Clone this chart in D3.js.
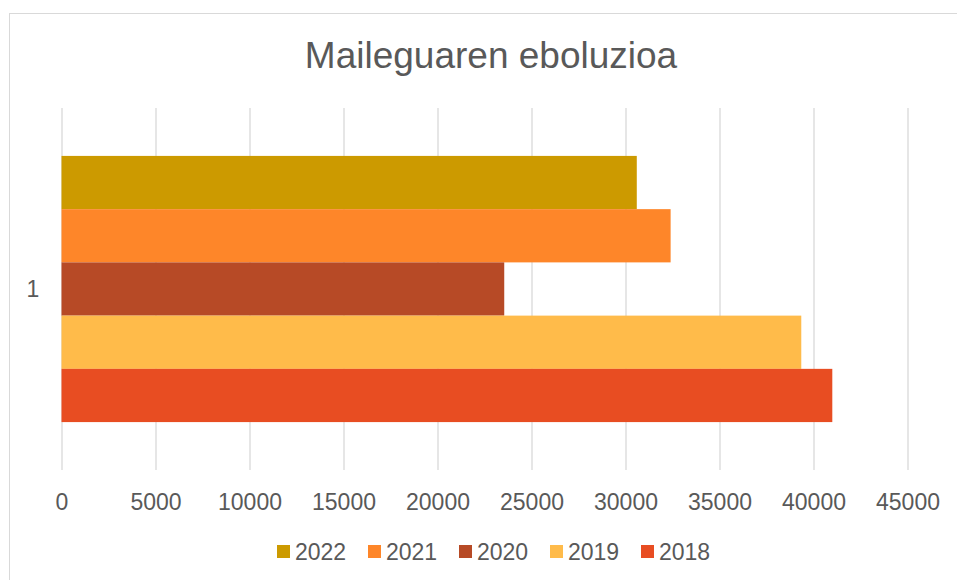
<!DOCTYPE html>
<meta charset="utf-8">
<style>
body { margin: 0; background: #fff; }
text { font-family: "Liberation Sans", Arial, sans-serif; fill: #595959; }
.grid line { stroke: #d9d9d9; stroke-width: 1.3; }
.grid path { display: none; }
.axis--x path, .axis--x line { display: none; }
.axis--x text { font-size: 23px; }
</style>
<svg width="957" height="580"></svg>
<script src="https://d3js.org/d3.v7.min.js"></script>
<script>

var categories = ["1"];
var series = ["2022", "2021", "2020", "2019", "2018"];
var values = [30600, 32400, 23550, 39350, 41000];
var colors = ["#cc9a00", "#fe8629", "#b74a26", "#ffbb4a", "#e84d22"];
var xTicks = [0, 5000, 10000, 15000, 20000, 25000, 30000, 35000, 40000, 45000];

var svg = d3.select("svg"),
    margin = {top: 108, left: 61.5, right: 49.5, bottom: 110},
    width = +svg.attr("width") - margin.left - margin.right,
    height = +svg.attr("height") - margin.top - margin.bottom;

// chart frame (cut off at right and bottom)
svg.append("rect")
    .attr("x", 9.5).attr("y", 13.5)
    .attr("width", 1200).attr("height", 1200)
    .attr("fill", "none").attr("stroke", "#d9d9d9");

svg.append("text")
    .attr("x", 491).attr("y", 68)
    .attr("text-anchor", "middle")
    .style("font-size", "37px")
    .text("Maileguaren eboluzioa");

var x = d3.scaleLinear().domain([0, 45000]).range([0, width]);
var y = d3.scaleBand().domain(categories).range([0, height]).paddingInner(0).paddingOuter(0.18);
var ys = d3.scaleBand().domain(series).range([0, y.bandwidth()]);

var g = svg.append("g")
    .attr("transform", "translate(" + margin.left + "," + margin.top + ")");

g.append("g")
    .attr("class", "grid")
    .attr("transform", "translate(0," + height + ")")
    .call(d3.axisBottom(x).tickValues(xTicks).tickSize(-height).tickFormat(""));

g.append("g")
    .attr("class", "axis axis--x")
    .attr("transform", "translate(0," + height + ")")
    .call(d3.axisBottom(x).tickValues(xTicks).tickFormat(d3.format("d")).tickSize(0).tickPadding(24));

var cat = g.selectAll(".cat")
  .data(categories)
  .enter().append("g")
    .attr("class", "cat")
    .attr("transform", function(d) { return "translate(0," + y(d) + ")"; });

cat.selectAll("rect")
  .data(series.map(function(s, i) { return {key: s, value: values[i], color: colors[i]}; }))
  .enter().append("rect")
    .attr("x", x(0))
    .attr("y", function(d) { return ys(d.key); })
    .attr("width", function(d) { return x(d.value) - x(0); })
    .attr("height", ys.bandwidth())
    .attr("fill", function(d) { return d.color; });

cat.append("text")
    .attr("x", 33 - margin.left)
    .attr("y", y.bandwidth() / 2)
    .attr("dy", "0.35em")
    .attr("text-anchor", "middle")
    .style("font-size", "23px")
    .text(function(d) { return d; });

// legend
var legend = svg.append("g").attr("transform", "translate(277,0)");
var item = legend.selectAll("g")
  .data(series)
  .enter().append("g")
    .attr("transform", function(d, i) { return "translate(" + (i * 91) + ",0)"; });

item.append("rect")
    .attr("y", 545).attr("width", 13).attr("height", 13)
    .attr("fill", function(d, i) { return colors[i]; });

item.append("text")
    .attr("x", 18).attr("y", 560)
    .style("font-size", "23px")
    .text(function(d) { return d; });

</script>
